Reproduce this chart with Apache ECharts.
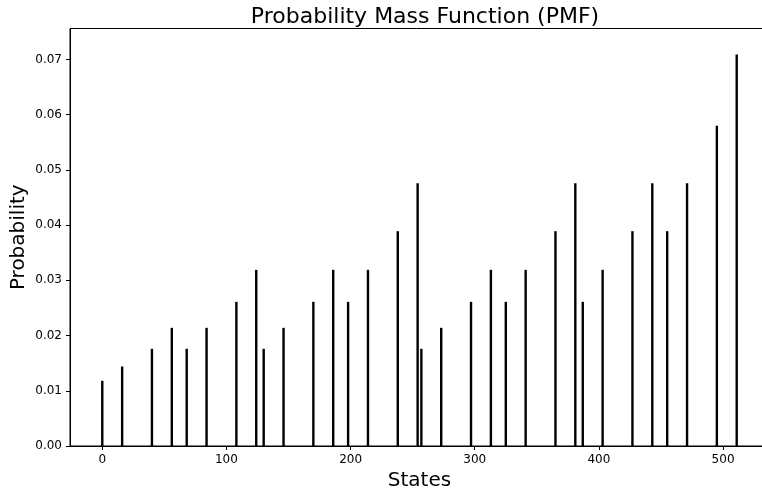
<!DOCTYPE html>
<html>
<head>
<meta charset="utf-8">
<title>PMF</title>
<script src="https://cdn.jsdelivr.net/npm/echarts@6/dist/echarts.min.js"></script>
<style>
  html, body { margin: 0; padding: 0; background: #fff; }
  #chart { width: 762px; height: 490px; }
</style>
</head>
<body>
<div id="chart"></div>
<script>
// states (9 bit palindromes) and their probabilities
const states = [0, 16, 40, 56, 68, 84, 108, 124, 130, 146, 170, 186, 198, 214, 238, 254,
  257, 273, 297, 313, 325, 341, 365, 381, 387, 403, 427, 443, 455, 471, 495, 511];
const probs = [0.0118, 0.0144, 0.0176, 0.0214, 0.0176, 0.0214, 0.0261, 0.0319,
  0.0176, 0.0214, 0.0261, 0.0319, 0.0261, 0.0319, 0.0389, 0.0476,
  0.0176, 0.0214, 0.0261, 0.0319, 0.0261, 0.0319, 0.0389, 0.0476,
  0.0261, 0.0319, 0.0389, 0.0476, 0.0389, 0.0476, 0.0580, 0.0709];
const xTicks = [0, 100, 200, 300, 400, 500];
const yTicks = [0, 0.01, 0.02, 0.03, 0.04, 0.05, 0.06, 0.07];

const font = 'DejaVu Sans';
const chart = echarts.init(document.getElementById('chart'));

const option = {
  animation: false,
  backgroundColor: '#fff',
  textStyle: { fontFamily: font },
  title: {
    text: 'Probability Mass Function (PMF)',
    left: 420,
    top: 1,
    textAlign: 'center',
    textStyle: { fontFamily: font, fontSize: 22, fontWeight: 'normal', color: '#000' }
  },
  grid: {
    left: 70,
    right: -7,
    top: 28.5,
    bottom: 44,
    show: true,
    borderColor: '#000',
    borderWidth: 1,
    containLabel: false,
    outerBoundsMode: 'none'
  },
  xAxis: {
    type: 'value',
    min: -26,
    max: 537,
    name: 'States',
    nameLocation: 'middle',
    nameGap: 25,
    nameMoveOverlap: false,
    nameTextStyle: { fontFamily: font, fontSize: 20, color: '#000' },
    axisLine: { show: true, onZero: false, lineStyle: { color: '#000', width: 1 } },
    axisTick: { show: true, length: 4, lineStyle: { color: '#000' }, customValues: xTicks },
    axisLabel: { fontFamily: font, fontSize: 12, color: '#000', margin: 8, customValues: xTicks },
    splitLine: { show: false }
  },
  yAxis: {
    type: 'value',
    min: 0,
    max: 0.0756,
    name: 'Probability',
    nameLocation: 'middle',
    nameGap: 41,
    nameMoveOverlap: false,
    nameRotate: 90,
    nameTextStyle: { fontFamily: font, fontSize: 20, color: '#000' },
    axisLine: { show: true, onZero: false, lineStyle: { color: '#000', width: 1 } },
    axisTick: { show: true, length: 4, lineStyle: { color: '#000' }, customValues: yTicks },
    axisLabel: {
      fontFamily: font, fontSize: 12, color: '#000', margin: 8,
      customValues: yTicks,
      formatter: function (v) { return v.toFixed(2); }
    },
    splitLine: { show: false }
  },
  series: [
    {
      type: 'bar',
      barWidth: 2.4,
      itemStyle: { color: '#000' },
      data: states.map(function (s, i) { return [s, probs[i]]; })
    }
  ]
};

chart.setOption(option);
</script>
</body>
</html>
